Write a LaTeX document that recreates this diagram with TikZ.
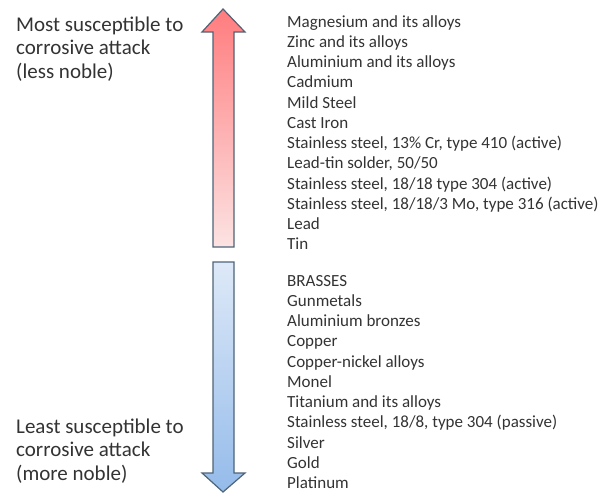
\documentclass[tikz,border=0pt]{standalone}
\usepackage{fontspec}
\setmainfont{Carlito}
\definecolor{uptop}{HTML}{FF7C7E}
\definecolor{upbot}{HTML}{FCE3E3}
\definecolor{dntop}{HTML}{DEE9F8}
\definecolor{dnbot}{HTML}{94BBEA}
\definecolor{edgec}{HTML}{4E6478}
\definecolor{textc}{HTML}{333333}
\begin{document}
\begin{tikzpicture}[x=1pt,y=-1pt,
  txt/.style={text=textc, inner sep=0pt, anchor=base west},
  biglbl/.style={txt, font=\fontsize{21}{23.5}\selectfont},
  listlbl/.style={txt, font=\fontsize{17}{20.25}\selectfont},
  arrowborder/.style={draw=edgec, line width=1.2pt, line join=miter}]
\useasboundingbox (0,0) rectangle (600,493);
% up arrow
\path[arrowborder, top color=uptop, bottom color=upbot]
  (223,9) -- (245,32) -- (234,32) -- (234,247) -- (213,247) -- (213,32) -- (202,32) -- cycle;
% down arrow
\path[arrowborder, top color=dntop, bottom color=dnbot]
  (213,262) -- (234,262) -- (234,473) -- (245,473) -- (223,492) -- (202,473) -- (213,473) -- cycle;
\foreach \t [count=\i] in {Most susceptible to, corrosive attack, (less noble)}
  \node[biglbl] (most\i) at (16,{31+(\i-1)*23.5}) {\t};
\foreach \t [count=\i] in {Least susceptible to, corrosive attack, (more noble)}
  \node[biglbl] (least\i) at (16,{433+(\i-1)*23.5}) {\t};
\foreach \t [count=\i] in {Magnesium and its alloys, Zinc and its alloys, Aluminium and its alloys, Cadmium, Mild Steel, Cast Iron, {Stainless steel, 13\% Cr, type 410 (active)}, {Lead-tin solder, 50/50}, {Stainless steel, 18/18 type 304 (active)}, {Stainless steel, 18/18/3 Mo, type 316 (active)}, Lead, Tin}
  \node[listlbl] (up\i) at (287,{27+(\i-1)*20.25}) {\t};
\foreach \t [count=\i] in {BRASSES, Gunmetals, Aluminium bronzes, Copper, Copper-nickel alloys, Monel, Titanium and its alloys, {Stainless steel, 18/8, type 304 (passive)}, Silver, Gold, Platinum}
  \node[listlbl] (lo\i) at (287,{286+(\i-1)*20.25}) {\t};
\end{tikzpicture}
\end{document}
